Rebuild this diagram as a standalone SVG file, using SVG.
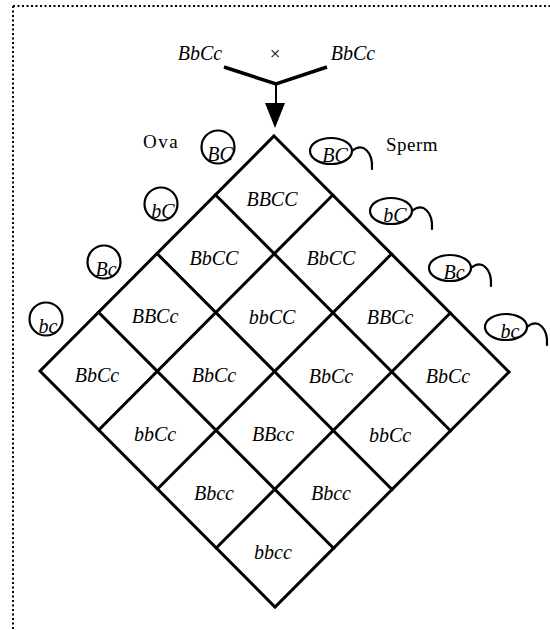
<svg xmlns="http://www.w3.org/2000/svg" width="550" height="630" viewBox="0 0 550 630">
  <style>
    .geno { font-family: "Liberation Serif", "Times New Roman", serif; font-style: italic; font-size: 20px; fill: #000; text-anchor: middle; }
    .gam { font-family: "Liberation Serif", "Times New Roman", serif; font-style: italic; font-size: 20px; fill: #000; text-anchor: middle; }
    .lbl { font-family: "Liberation Serif", "Times New Roman", serif; font-size: 19px; fill: #000; }
    .grid { fill: none; stroke: #000; stroke-width: 3; stroke-linejoin: miter; stroke-linecap: square; }
    .cell { fill: none; stroke: #000; stroke-width: 2.2; }
    .tail { fill: none; stroke: #000; stroke-width: 2.2; stroke-linecap: round; }
    .frame { fill: none; stroke: #000; stroke-width: 2; stroke-dasharray: 2 2.5; }
  </style>

  <!-- dotted frame (top and left edges) -->
  <path class="frame" d="M13,6 H550 M13,6 V630"/>

  <!-- parents -->
  <g id="parents">
    <text class="geno" x="200" y="60" font-size="19">BbCc</text>
    <text class="lbl" x="275" y="60" text-anchor="middle" font-size="17">×</text>
    <text class="geno" x="353" y="60" font-size="19">BbCc</text>
  </g>

  <!-- cross connector -->
  <g id="connectors">
    <path d="M224,67 L276,84 L327,67" fill="none" stroke="#000" stroke-width="3.5" stroke-linejoin="miter"/>
    <path d="M276,84 V104" stroke="#000" stroke-width="2"/>
    <polygon points="265,103 285,103 275,128" fill="#000"/>
  </g>

  <!-- headings -->
  <text class="lbl" x="143" y="148" letter-spacing="1.5">Ova</text>
  <text class="lbl" x="386" y="151" letter-spacing="0.5">Sperm</text>

  <!-- ova -->
  <g id="ovum-BC"><circle class="cell" cx="218" cy="147" r="16.5"/><text class="gam" x="220" y="161">BC</text></g>
  <g id="ovum-bC"><circle class="cell" cx="161" cy="204" r="16.5"/><text class="gam" x="163" y="218">bC</text></g>
  <g id="ovum-Bc"><circle class="cell" cx="104" cy="262" r="16.5"/><text class="gam" x="106" y="276">Bc</text></g>
  <g id="ovum-bc"><circle class="cell" cx="46" cy="319" r="16.5"/><text class="gam" x="48" y="333">bc</text></g>

  <!-- sperm -->
  <g id="sperm-BC"><ellipse class="cell" cx="331" cy="151" rx="21" ry="13"/><path class="tail" d="M352,151 C363,142 373,152 372,169"/><text class="gam" x="335" y="162">BC</text></g>
  <g id="sperm-bC"><ellipse class="cell" cx="391" cy="211" rx="21" ry="13"/><path class="tail" d="M412,211 C423,202 433,212 432,229"/><text class="gam" x="395" y="222">bC</text></g>
  <g id="sperm-Bc"><ellipse class="cell" cx="450" cy="268" rx="21" ry="13"/><path class="tail" d="M471,268 C482,259 492,269 491,286"/><text class="gam" x="454" y="279">Bc</text></g>
  <g id="sperm-bc"><ellipse class="cell" cx="506" cy="327" rx="21" ry="13"/><path class="tail" d="M527,327 C538,318 548,328 547,345"/><text class="gam" x="510" y="338">bc</text></g>

  <!-- Punnett grid -->
  <g id="grid" class="grid">
    <polygon points="274,136 509,372 275,607 40,371"/>
    <path d="M215.5,194.75 L450.5,430.75 M157,253.5 L392,489.5 M98.5,312.25 L333.5,548.25"/>
    <path d="M332.75,195 L98.75,430 M391.5,254 L157.5,489 M450.25,313 L216.25,548"/>
  </g>

  <!-- offspring genotypes -->
  <g id="c00"><text class="geno" x="272" y="206">BBCC</text></g>
  <g id="c10"><text class="geno" x="214" y="265">BbCC</text></g>
  <g id="c01"><text class="geno" x="331" y="265">BbCC</text></g>
  <g id="c20"><text class="geno" x="155" y="323">BBCc</text></g>
  <g id="c11"><text class="geno" x="272" y="324">bbCC</text></g>
  <g id="c02"><text class="geno" x="390" y="324">BBCc</text></g>
  <g id="c30"><text class="geno" x="97" y="382">BbCc</text></g>
  <g id="c21"><text class="geno" x="214" y="382">BbCc</text></g>
  <g id="c12"><text class="geno" x="331" y="383">BbCc</text></g>
  <g id="c03"><text class="geno" x="448" y="383">BbCc</text></g>
  <g id="c31"><text class="geno" x="155" y="441">bbCc</text></g>
  <g id="c22"><text class="geno" x="273" y="441">BBcc</text></g>
  <g id="c13"><text class="geno" x="390" y="442">bbCc</text></g>
  <g id="c32"><text class="geno" x="214" y="500">Bbcc</text></g>
  <g id="c23"><text class="geno" x="331" y="500">Bbcc</text></g>
  <g id="c33"><text class="geno" x="273" y="559">bbcc</text></g>
</svg>
